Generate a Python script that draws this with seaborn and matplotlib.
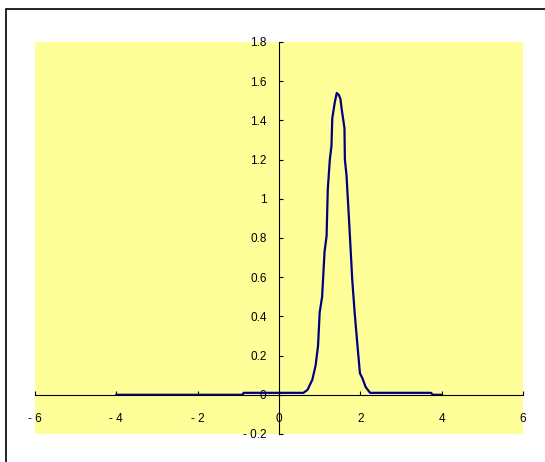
import matplotlib
matplotlib.use('Agg')
import matplotlib.pyplot as plt
import matplotlib.patches as patches
import seaborn as sns

# curve
x_vals = [-4.0, -0.9, -0.87, 0.6, 0.7, 0.82, 0.9, 0.96, 1.0, 1.06, 1.12, 1.17,
          1.20, 1.25, 1.29, 1.31, 1.37, 1.42, 1.47, 1.51, 1.54, 1.61, 1.62,
          1.66, 1.72, 1.78, 1.80, 1.86, 1.93, 1.99, 2.05, 2.13, 2.24, 3.74,
          3.78, 4.0]
y_vals = [0.0, 0.0, 0.01, 0.01, 0.025, 0.077, 0.15, 0.25, 0.42, 0.50, 0.73, 0.81,
          1.05, 1.20, 1.27, 1.41, 1.49, 1.54, 1.53, 1.51, 1.46, 1.36, 1.20,
          1.12, 0.90, 0.67, 0.59, 0.42, 0.25, 0.11, 0.085, 0.04, 0.01, 0.01,
          0.0, 0.0]

x_ticks = [-6, -4, -2, 0, 2, 4, 6]
x_tick_labels = ['- 6', '- 4', '- 2', '0', '2', '4', '6']
y_ticks = [-0.2, 0, 0.2, 0.4, 0.6, 0.8, 1.0, 1.2, 1.4, 1.6, 1.8]
y_tick_labels = ['- 0.2', '0', '0.2', '0.4', '0.6', '0.8', '1', '1.2', '1.4', '1.6', '1.8']

plt.rcParams['font.family'] = ['Liberation Sans', 'DejaVu Sans']

fig = plt.figure(figsize=(5.45, 4.62), dpi=100)
ax = fig.add_axes([35 / 545, 28 / 462, 488 / 545, 392 / 462])
ax.set_facecolor('#FFFF99')

sns.lineplot(x=x_vals, y=y_vals, color='#000080', linewidth=1.6, sort=False, ax=ax)

ax.set_xlim(-6, 6)
ax.set_ylim(-0.2, 1.8)
ax.spines['left'].set_position(('data', 0))
ax.spines['bottom'].set_position(('data', 0))
ax.spines['top'].set_visible(False)
ax.spines['right'].set_visible(False)
for s in ['left', 'bottom']:
    ax.spines[s].set_linewidth(0.8)
    ax.spines[s].set_color('black')

ax.set_xticks(x_ticks)
ax.set_xticklabels(x_tick_labels)
ax.set_yticks(y_ticks)
ax.set_yticklabels(y_tick_labels)
ax.tick_params(axis='x', direction='in', length=3, width=0.8, pad=13, labelsize=8.5)
ax.tick_params(axis='y', direction='in', length=3, width=0.8, pad=9, labelsize=8.5)
ax.set_xlabel('')
ax.set_ylabel('')

# outer chart frame (only top/left visible)
frame = patches.Rectangle((6 / 545, -0.5), 2, 1 - 9 / 462 + 0.5, transform=fig.transFigure,
                          fill=False, edgecolor='black', linewidth=1.2)
fig.patches.append(frame)

fig.savefig('out.png', dpi=100)
